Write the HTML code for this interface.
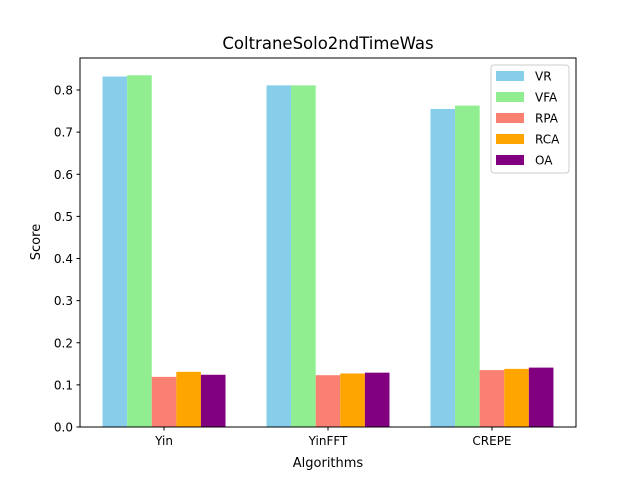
<!DOCTYPE html>
<html><head><meta charset="utf-8"><style>
body{margin:0;background:#fff;font-family:"Liberation Sans","DejaVu Sans",sans-serif;}
</style></head><body>
<svg id="chart" width="640" height="480" xmlns="http://www.w3.org/2000/svg" font-family="DejaVu Sans, Liberation Sans, sans-serif">
<rect width="640" height="480" fill="#fff"/>
<text x="328" y="49" text-anchor="middle" font-size="16.5">ColtraneSolo2ndTimeWas</text>
<g id="bars"></g>
<g id="axes"></g>
<text x="328" y="467" text-anchor="middle" font-size="13">Algorithms</text>
<text x="40" y="242" text-anchor="middle" font-size="13" transform="rotate(-90 40 242)">Score</text>
<g id="legend"></g>
</svg>
<script>
const categories=["Yin","YinFFT","CREPE"];
const seriesNames=["VR","VFA","RPA","RCA","OA"];
const colors=["#87ceeb","#90ee90","#fa8072","#ffa500","#800080"];
const VR=[0.832,0.811,0.755];
const VFA=[0.835,0.811,0.763];
const RPA=[0.119,0.123,0.135];
const RCA=[0.131,0.127,0.138];
const OA=[0.124,0.129,0.141];
const yTicks=[0,0.1,0.2,0.3,0.4,0.5,0.6,0.7,0.8];
const series=[VR,VFA,RPA,RCA,OA];
const L=80,R=576,T=58,B=427,yMax=0.876,bw=0.15;
const xMin=-0.375-0.1375,xMax=2.375+0.1375;
const xs=v=>L+(v-xMin)/(xMax-xMin)*(R-L);
const ys=v=>B-v/yMax*(B-T);
const NS="http://www.w3.org/2000/svg";
function mk(t,a,p){const e=document.createElementNS(NS,t);for(const k in a)e.setAttribute(k,a[k]);p.appendChild(e);return e;}
const gb=document.getElementById('bars'),ga=document.getElementById('axes'),gl=document.getElementById('legend');
series.forEach((s,si)=>{s.forEach((v,ci)=>{
 const x0=xs(ci+(si-2.5)*bw),x1=xs(ci+(si-1.5)*bw);
 const r=mk('rect',{x:x0,y:ys(v),width:x1-x0,height:B-ys(v),fill:colors[si]},gb);
 
 
});});
const fr=mk('rect',{x:L,y:T,width:R-L,height:B-T,fill:'none',stroke:'#000','stroke-width':1},ga);


yTicks.forEach(t=>{const y=ys(t);
 mk('line',{x1:L-3.5,x2:L,y1:y,y2:y,stroke:'#000'},ga);
 const tx=mk('text',{x:L-7,y:y+4.5,'text-anchor':'end','font-size':12},ga);tx.textContent=t.toFixed(1);
 
 
});
categories.forEach((c,i)=>{const x=xs(i);
 mk('line',{x1:x,x2:x,y1:B,y2:B+3.5,stroke:'#000'},ga);
 const tx=mk('text',{x:x,y:B+18,'text-anchor':'middle','font-size':12},ga);tx.textContent=c;
 
 
});
const lb=mk('rect',{x:491,y:65,width:78,height:108,rx:3,fill:'#fff',stroke:'#ccc'},gl);


seriesNames.forEach((n,i)=>{const y=75+i*21;
 const sw=mk('rect',{x:496,y:y-4,width:28,height:10,fill:colors[i]},gl);
 
 
 const tx=mk('text',{x:535,y:y+5.5,'font-size':12},gl);tx.textContent=n;
 
 
});
</script>
</body></html>
